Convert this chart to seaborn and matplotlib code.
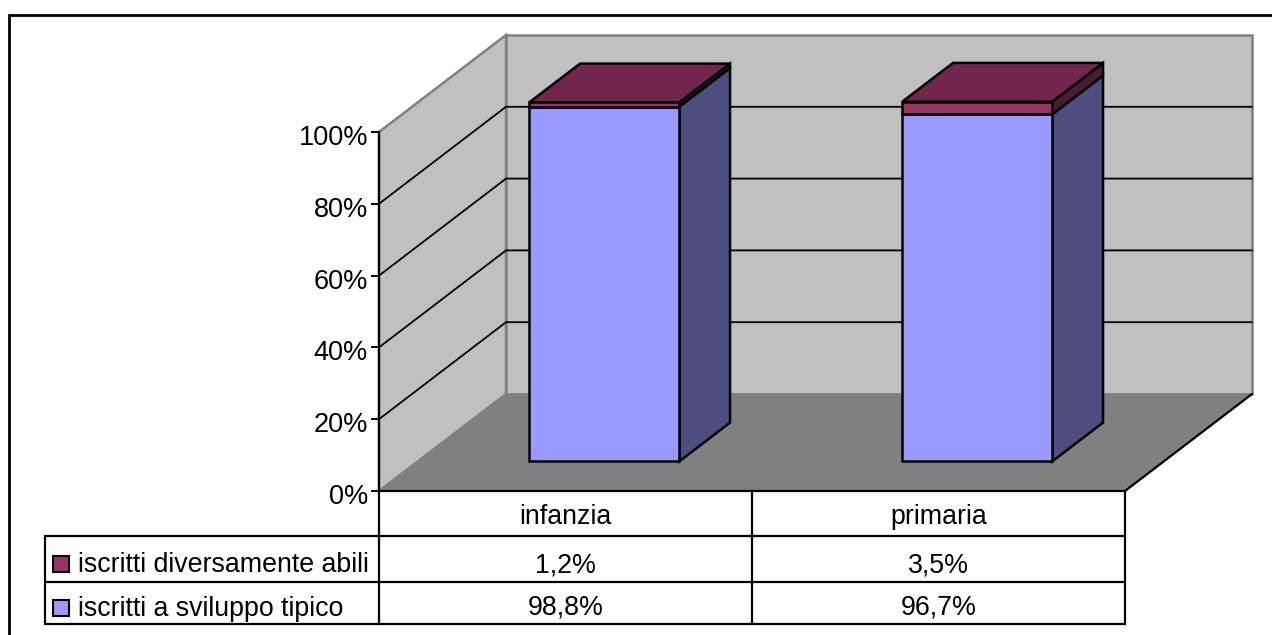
import matplotlib
matplotlib.use("Agg")
import matplotlib.pyplot as plt
import numpy as np
import seaborn as sns
from matplotlib.lines import Line2D
from matplotlib.patches import Rectangle, Polygon
from matplotlib.transforms import Affine2D

# Enrolment shares per school level (percent)
categories = ["infanzia", "primaria"]
typical = [98.8, 96.7]
disabled = [1.2, 3.5]
series_names = ["iscritti diversamente abili", "iscritti a sviluppo tipico"]
y_ticks = [0, 20, 40, 60, 80, 100]

W, H = 1272, 635
sns.set_style("white")
plt.rcParams["font.family"] = ["Liberation Sans", "DejaVu Sans"]

fig = plt.figure(figsize=(W / 100, H / 100), dpi=100)
fig.patch.set_facecolor("white")

# Front plane of the pseudo-3D box
PX_L, PX_R, PX_B, PX_T = 379, 1125, 491, 132
ax = fig.add_axes([PX_L / W, 1 - PX_B / H, (PX_R - PX_L) / W, (PX_B - PX_T) / H])
ax.patch.set_alpha(0)

# Full depth of the box expressed in data units
DX = 127 / ((PX_R - PX_L) / 2)
DY = 97 / ((PX_B - PX_T) / 100)
BAR_NEAR, BAR_FAR = 0.305, 0.705
BAR_W = 150 / ((PX_R - PX_L) / 2)
XMIN, XMAX = -0.5, 1.5


def proj(x, v, d):
    return (x + d * DX, v + d * DY)


def face(points, color, edge="black", lw=1.6, z=2):
    ax.add_patch(Polygon([proj(*p) for p in points], closed=True, facecolor=color,
                         edgecolor=edge, linewidth=lw, zorder=z, clip_on=False,
                         joinstyle="miter"))


# Walls and floor
face([(XMIN, 0, 0), (XMIN, 100, 0), (XMIN, 100, 1), (XMIN, 0, 1)], "#c0c0c0", "#808080", 1.8, 1)
face([(XMIN, 0, 1), (XMIN, 100, 1), (XMAX, 100, 1), (XMAX, 0, 1)], "#c0c0c0", "#808080", 1.8, 1)
face([(XMIN, 0, 0), (XMIN, 0, 1), (XMAX, 0, 1), (XMAX, 0, 0)], "#808080", "#808080", 1.0, 1.5)
for a, b in [((XMAX, 0, 1), (XMAX, 0, 0)), ((XMIN, 0, 0), (XMAX, 0, 0))]:
    pa, pb = proj(*a), proj(*b)
    ax.plot([pa[0], pb[0]], [pa[1], pb[1]], color="black", lw=1.6, zorder=1.8, clip_on=False)

# Gridlines wrap around the side and back walls
for t in y_ticks[1:-1]:
    pts = [proj(XMIN, t, 0), proj(XMIN, t, 1), proj(XMAX, t, 1)]
    ax.plot(*zip(*pts), color="black", lw=1.3, zorder=1.7, clip_on=False)

# Front faces of the stacked bars
sns.barplot(x=categories, y=typical, color="#9999ff", saturation=1, width=BAR_W,
            edgecolor="black", linewidth=1.8, ax=ax, zorder=4)
sns.barplot(x=categories, y=disabled, bottom=typical, color="#993366", saturation=1,
            width=BAR_W, edgecolor="black", linewidth=1.8, ax=ax, zorder=4)
for p in ax.patches:
    if isinstance(p, Rectangle):
        p.set_x(p.get_x() + BAR_NEAR * DX)
        p.set_y(p.get_y() + BAR_NEAR * DY)
        p.set_clip_on(False)

# Side and top faces of each stack
for i in range(len(categories)):
    xr = i + BAR_W / 2
    xl = i - BAR_W / 2
    t1, t2 = typical[i], typical[i] + disabled[i]
    face([(xr, 0, BAR_NEAR), (xr, t1, BAR_NEAR), (xr, t1, BAR_FAR), (xr, 0, BAR_FAR)], "#4d4d80", lw=1.8, z=3)
    face([(xr, t1, BAR_NEAR), (xr, t2, BAR_NEAR), (xr, t2, BAR_FAR), (xr, t1, BAR_FAR)], "#4d1a33", lw=1.8, z=3)
    face([(xl, t2, BAR_NEAR), (xl, t2, BAR_FAR), (xr, t2, BAR_FAR), (xr, t2, BAR_NEAR)], "#73264d", lw=1.8, z=3)

# Value axis
ax.set_xlim(XMIN, XMAX)
ax.set_ylim(0, 100)
sns.despine(ax=ax, left=False, bottom=True, right=True, top=True)
ax.spines["left"].set_color("black")
ax.spines["left"].set_linewidth(1.6)
ax.spines["left"].set_zorder(6)
ax.set_yticks(y_ticks)
ax.set_yticklabels([f"{t}%" for t in y_ticks], fontsize=19.5, color="black")
ax.tick_params(axis="y", left=True, length=6, width=1.4, color="black", pad=2)
ax.set_xticks([])
ax.set_xlabel("")
ax.set_ylabel("")
ax.grid(False)
# Tick labels sit slightly below their tick marks
for lab in ax.get_yticklabels():
    lab.set_transform(lab.get_transform() + Affine2D().translate(0, -3))

# Everything below is placed in figure pixels, measured from the top left
to_px = Affine2D().scale(1, -1).translate(0, H)


def hline(x0, x1, y, lw=1.6):
    fig.add_artist(Line2D([x0, x1], [y, y], color="black", lw=lw, transform=to_px))


def vline(x, y0, y1, lw=1.6):
    fig.add_artist(Line2D([x, x], [y0, y1], color="black", lw=lw, transform=to_px))


def label(x, y, s, ha="center"):
    fig.text(x, y, s, transform=to_px, ha=ha, va="center", fontsize=19.3, color="black")


def pct(v):
    return f"{v:.1f}".replace(".", ",") + "%"


# Data table under the chart
T_L, T_M = 45, (PX_L + PX_R) / 2
R0, R1, R2, R3 = PX_B, 536, 582, 624
hline(T_L, PX_R, R1)
hline(T_L, PX_R, R2)
hline(T_L, PX_R, R3)
vline(T_L, R1, R3)
vline(PX_L, PX_B, R3)
vline(T_M, PX_B, R3)
vline(PX_R, PX_B, R3)

for i, cat in enumerate(categories):
    cx = PX_L + (i + 0.5) * (PX_R - PX_L) / 2
    label(cx, (R0 + R1) / 2 + 3, cat)
    label(cx, (R1 + R2) / 2 + 6, pct(disabled[i]))
    label(cx, (R2 + R3) / 2 + 5, pct(typical[i]))

for name, color, row in zip(series_names, ["#993366", "#9999ff"], [(R1, R2), (R2, R3)]):
    mid = sum(row) / 2 + 4
    fig.add_artist(Rectangle((52.5, mid - 8 + 1), 16, 16, facecolor=color, edgecolor="black",
                             linewidth=1.5, transform=to_px))
    label(78, mid + 2, name, ha="left")

# Chart frame: its right and bottom edges fall outside the canvas
hline(9, W + 5, 15, lw=2)
vline(9, 15, H + 5, lw=2)

fig.savefig("out.png", dpi=100)
